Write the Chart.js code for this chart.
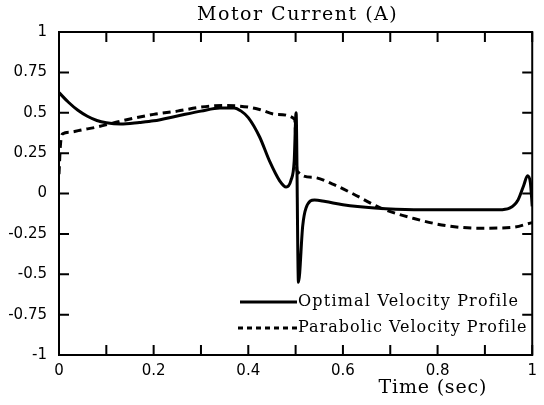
<!DOCTYPE html>
<html>
<head>
<meta charset="utf-8">
<script src="https://cdn.jsdelivr.net/npm/chart.js"></script>
<style>
  body { margin: 0; background: #fff; }
  #wrap { width: 544px; height: 405px; }
</style>
</head>
<body>
<div id="wrap"><canvas id="myChart" width="544" height="405"></canvas></div>
<script>
// values
const optTime = [0, 0.02, 0.04, 0.06, 0.08, 0.1, 0.13, 0.17, 0.2, 0.25, 0.3, 0.34, 0.37, 0.385, 0.4,
  0.424, 0.445, 0.466, 0.48, 0.49, 0.497, 0.501, 0.506, 0.515, 0.522, 0.54, 0.563, 0.6, 0.667,
  0.75, 0.85, 0.93, 0.952, 0.97, 0.982, 0.99, 0.996, 1.0];
const optCurrent = [0.625, 0.565, 0.515, 0.478, 0.452, 0.438, 0.43, 0.44, 0.45, 0.48, 0.51, 0.53, 0.53, 0.51, 0.47,
  0.35, 0.2, 0.08, 0.04, 0.08, 0.2, 0.5, -0.55, -0.2, -0.09, -0.04, -0.05, -0.07, -0.09,
  -0.1, -0.1, -0.1, -0.09, -0.04, 0.05, 0.11, 0.07, -0.08];

const parTime = [0, 0.003, 0.008, 0.023, 0.05, 0.078, 0.133, 0.2, 0.25, 0.3, 0.35, 0.4, 0.424, 0.46,
  0.498, 0.503, 0.536, 0.577, 0.62, 0.68, 0.75, 0.82, 0.89, 0.958, 0.994, 1.0];
const parCurrent = [0.12, 0.3, 0.37, 0.38, 0.395, 0.41, 0.45, 0.49, 0.51, 0.535, 0.545, 0.535, 0.52, 0.49,
  0.46, 0.14, 0.1, 0.06, 0.0, -0.09, -0.155, -0.2, -0.215, -0.21, -0.185, -0.18];

const seriesNames = ['Optimal Velocity Profile', 'Parabolic Velocity Profile'];
const chartTitle = 'Motor Current (A)';
const xTitle = 'Time (sec)';

const toPoints = (xs, ys) => xs.map((v, i) => ({ x: v, y: ys[i] }));

const serif = '"DejaVu Serif", serif';
const sans = '"DejaVu Sans", sans-serif';

// frame, inward ticks, title and legend drawn on top of the plot
const framePlugin = {
  id: 'frame',
  afterDatasetsDraw: (chart) => {
    const { ctx, chartArea: a, scales: { x, y } } = chart;
    ctx.save();
    ctx.strokeStyle = '#000';
    ctx.fillStyle = '#000';
    ctx.lineWidth = 2;
    ctx.strokeRect(a.left, a.top, a.right - a.left, a.bottom - a.top);

    ctx.beginPath();
    x.ticks.forEach((t) => {
      const px = x.getPixelForValue(t.value);
      ctx.moveTo(px, a.bottom); ctx.lineTo(px, a.bottom - 10);
      ctx.moveTo(px, a.top); ctx.lineTo(px, a.top + 10);
    });
    y.ticks.forEach((t) => {
      const py = y.getPixelForValue(t.value);
      ctx.moveTo(a.left, py); ctx.lineTo(a.left + 10, py);
      ctx.moveTo(a.right, py); ctx.lineTo(a.right - 10, py);
    });
    ctx.stroke();

    ctx.textAlign = 'center';
    ctx.textBaseline = 'middle';
    ctx.font = '19px ' + serif;
    ctx.letterSpacing = '1.5px';
    ctx.fillText(chartTitle, (a.left + a.right) / 2 + 2, 15);
    ctx.letterSpacing = '0.8px';
    ctx.fillText(xTitle, x.getPixelForValue(0.79), 388);

    // legend
    ctx.font = '16px ' + serif;
    ctx.textAlign = 'left';
    const textX = 298;
    const row1 = a.bottom - 53;
    const row2 = a.bottom - 27;
    ctx.lineWidth = 3;
    ctx.beginPath();
    ctx.moveTo(240, row1); ctx.lineTo(textX - 1, row1);
    ctx.stroke();
    ctx.letterSpacing = '1.2px';
    ctx.fillText(seriesNames[0], textX, row1);
    ctx.setLineDash([5, 4]);
    ctx.beginPath();
    ctx.moveTo(238, row2); ctx.lineTo(textX - 1, row2);
    ctx.stroke();
    ctx.setLineDash([]);
    ctx.letterSpacing = '1px';
    ctx.fillText(seriesNames[1], textX, row2);
    ctx.restore();
  },
};

const ctx = document.getElementById('myChart').getContext('2d');
new Chart(ctx, {
  type: 'line',
  data: {
    datasets: [
      {
        label: seriesNames[0],
        data: toPoints(optTime, optCurrent),
        borderColor: '#000',
        borderWidth: 3,
        pointRadius: 0,
        cubicInterpolationMode: 'monotone',
      },
      {
        label: seriesNames[1],
        data: toPoints(parTime, parCurrent),
        borderColor: '#000',
        borderWidth: 3,
        borderDash: [8, 5],
        pointRadius: 0,
        cubicInterpolationMode: 'monotone',
      },
    ],
  },
  options: {
    responsive: false,
    animation: false,
    layout: { padding: { top: 32, right: 4, left: 0, bottom: 0 } },
    plugins: {
      legend: { display: false },
      title: { display: false },
      tooltip: { enabled: false },
    },
    scales: {
      x: {
        type: 'linear',
        min: 0,
        max: 1,
        grid: { display: false, drawTicks: false },
        border: { display: false },
        ticks: {
          stepSize: 0.1,
          padding: 7,
          maxRotation: 0,
          autoSkip: false,
          color: '#000',
          font: { family: sans, size: 15 },
          callback: (v, i) => (i % 2 === 0 ? String(Number(v.toFixed(1))) : ''),
        },
        afterFit: (scale) => { scale.height = 50; },
      },
      y: {
        min: -1,
        max: 1,
        grid: { display: false, drawTicks: false },
        border: { display: false },
        ticks: {
          stepSize: 0.25,
          padding: 12,
          color: '#000',
          font: { family: sans, size: 15 },
          callback: (v) => String(Number(v.toFixed(2))),
        },
        afterFit: (scale) => { scale.width = 59; },
      },
    },
  },
  plugins: [framePlugin],
});
</script>
</body>
</html>
